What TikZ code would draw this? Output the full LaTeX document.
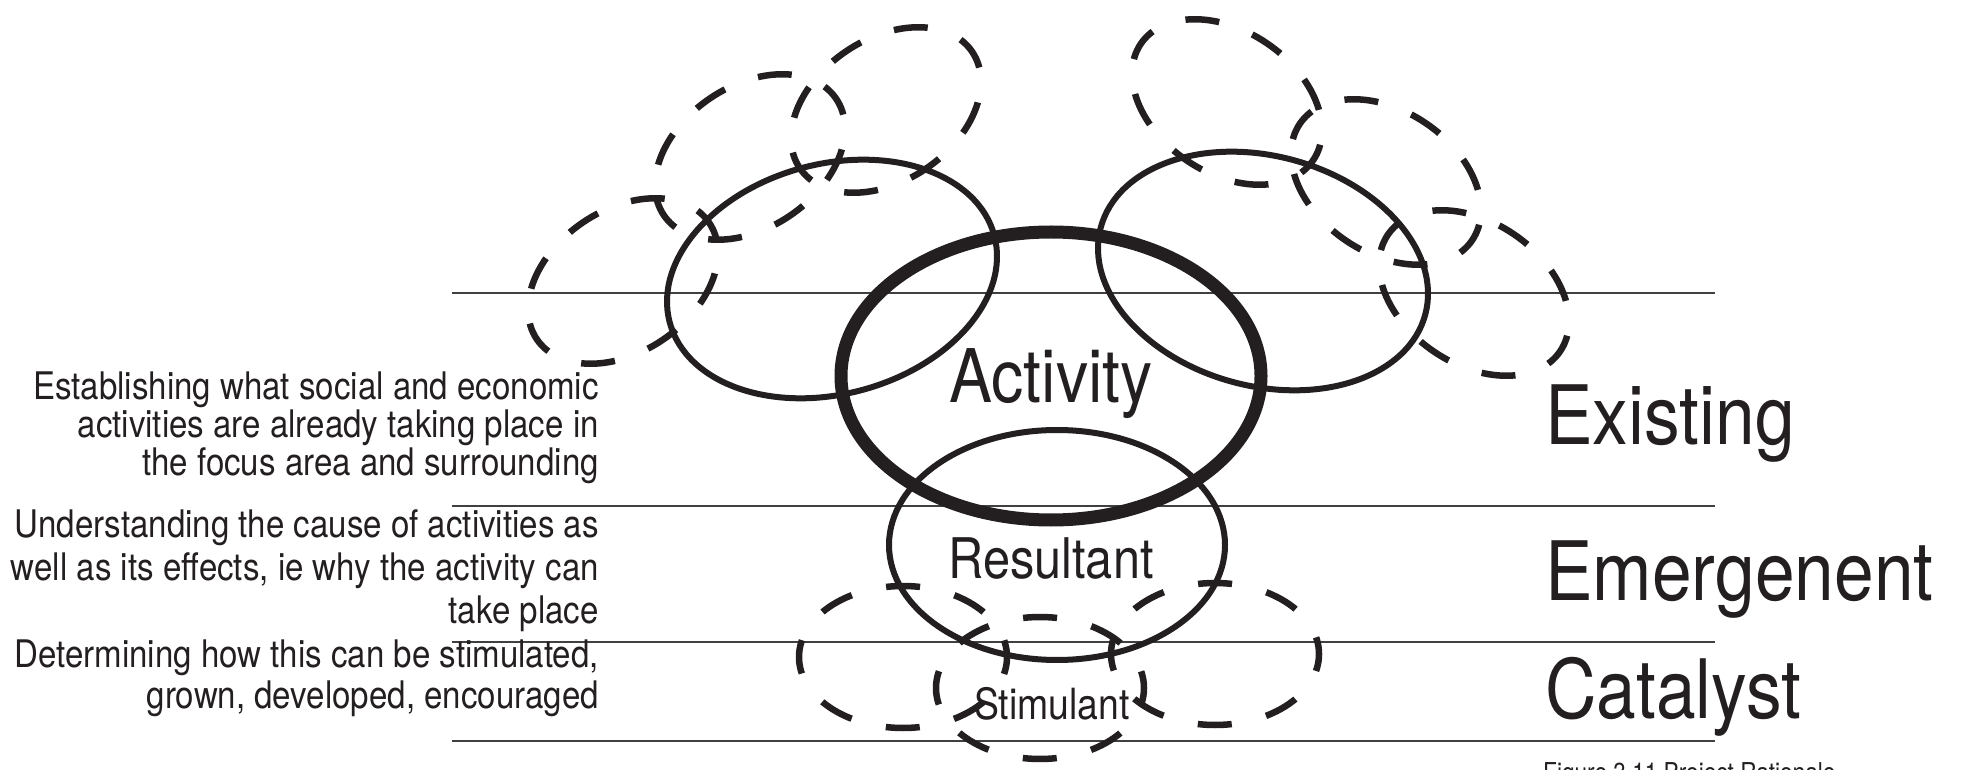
\documentclass[tikz,border=0pt]{standalone}
\usepackage{fontspec}
\setmainfont{TeX Gyre Heros}[FakeStretch=0.87]
\usetikzlibrary{shapes.geometric}
\definecolor{ink}{HTML}{231F20}

\begin{document}
\begin{tikzpicture}[x = 1pt, y = 1pt,
    ring/.style = {shape = ellipse, draw = ink, line width = 6pt, inner sep = 0pt,
        minimum width = 336pt, minimum height = 230pt},
    big ring/.style = {shape = ellipse, draw = ink, line width = 13pt, inner sep = 0pt,
        minimum width = 420pt, minimum height = 288pt},
    dash ring/.style = {shape = ellipse, draw = ink, line width = 6.5pt, inner sep = 0pt,
        minimum width = 208pt, minimum height = 142pt,
        dash pattern = on 34pt off 35.3pt, dash phase = 17pt},
    band line/.style = {draw = black!75, line width = 1.5pt},
    tier label/.style = {anchor = base west, inner sep = 0pt, text = ink,
        font = \fontsize{82pt}{82pt}\selectfont},
    side note/.style = {anchor = base east, align = right, inner sep = 0pt, text = ink,
        font = \fontsize{38pt}{#1}\selectfont}]
    \useasboundingbox (0,0) rectangle (1970,769);
    \clip (0,0) rectangle (1970,769);
    % level lines
    \foreach \n/\y in {top/476, mid/263, low/127, bot/28}{
        \coordinate (\n-w) at (452,\y);
        \coordinate (\n-e) at (1715,\y);
        \draw [band line] (\n-w) -- (\n-e);
    }
    % solid rings
    \node [big ring] (activity) at (1051,393) {};
    \node [ring] (resultant) at (1057,224) {};
    \node [ring, rotate = 15] (left ear) at (832,490) {};
    \node [ring, rotate = -15] (right ear) at (1263,498) {};
    % dashed rings
    \node [dash ring] (stim a) at (903,112) {};
    \node [dash ring] (stim b) at (1040,81) {};
    \node [dash ring] (stim c) at (1215,115) {};
    \node [dash ring, rotate = 34] (left a) at (623,488) {};
    \node [dash ring, rotate = 34] (left b) at (750,612) {};
    \node [dash ring, rotate = 34] (left c) at (886,659) {};
    \node [dash ring, rotate = -34] (right a) at (1227,667) {};
    \node [dash ring, rotate = -34] (right b) at (1386,587) {};
    \node [dash ring, rotate = -34] (right c) at (1474,476) {};
    % words in the rings
    \node [anchor = base, inner sep = 0pt, text = ink, font = \fontsize{74pt}{74pt}\selectfont]
        (activity label) at (1051,366) {Activity};
    \node [anchor = base, inner sep = 0pt, text = ink, font = \fontsize{56pt}{56pt}\selectfont]
        (resultant label) at (1051,191) {Resultant};
    \node [anchor = base, inner sep = 0pt, text = ink, font = \fontsize{43pt}{43pt}\selectfont]
        (stimulant label) at (1052,50) {Stimulant};
    % tiers
    \node [tier label] (existing) at (1545,324) {Existing};
    \node [tier label] (emergenent) at (1545,169) {Emergenent};
    \node [tier label] (catalyst) at (1545,51) {Catalyst};
    % notes on the left (base = last line)
    \node [side note = 38pt] (note existing) at (599,293)
        {Establishing what social and economic\\activities are already taking place in\\the focus area and surrounding};
    \node [side note = 43pt] (note emergenent) at (599,146)
        {Understanding the cause of activities as\\well as its effects, ie why the activity can\\take place};
    \node [side note = 41pt] (note catalyst) at (599,61)
        {Determining how this can be stimulated,\\grown, developed, encouraged};
    \node [anchor = base west, inner sep = 0pt, text = ink, font = \fontsize{26pt}{26pt}\selectfont]
        (caption) at (1543,-12) {Figure 3.11 Project Rationale};
\end{tikzpicture}
\end{document}
